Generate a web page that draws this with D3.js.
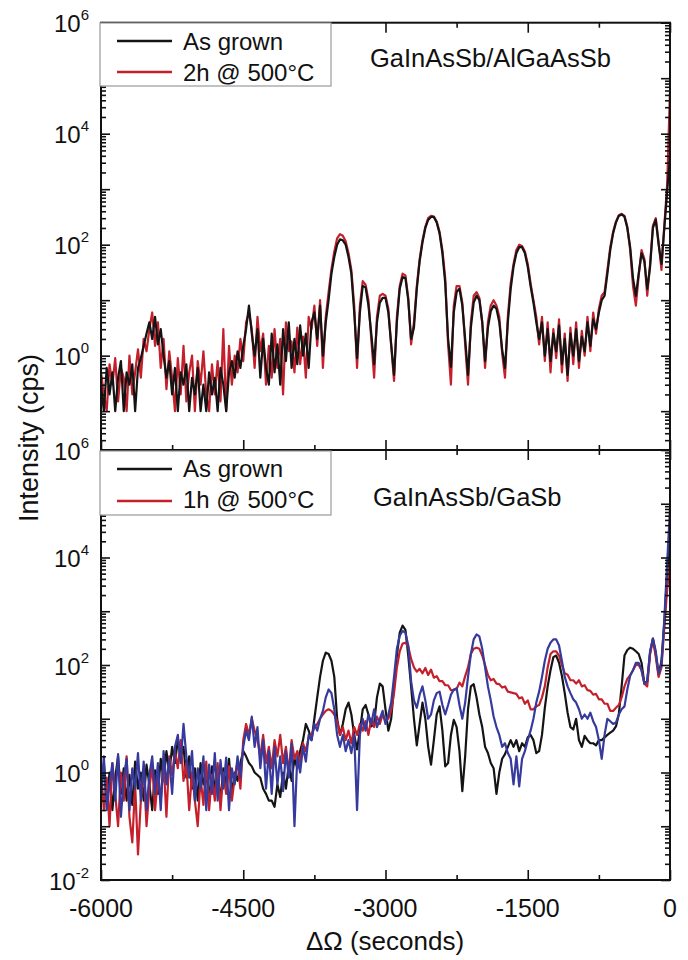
<!DOCTYPE html>
<html><head><meta charset="utf-8">
<script src="https://cdn.jsdelivr.net/npm/d3@7"></script>
<style>body{margin:0;background:#fff}text{font-family:"Liberation Sans",Arial,sans-serif;fill:#111}</style>
</head><body>
<svg id="c" width="688" height="960"></svg>
<script>
// ΔΩ sampling grid (seconds)
const X_START = -6000, X_STEP = 30;
// Top panel: GaInAsSb/AlGaAsSb
const topAsGrown = [
0.3,0.1,0.6,0.2,0.5,0.1,0.4,0.8,0.1,0.5,0.3,0.7,0.1,0.6,0.9,1.5,2.5,4,2,5,
1.6,3,1,0.4,0.8,0.2,0.6,0.1,0.5,0.3,0.7,0.1,0.4,0.2,0.6,0.1,0.3,0.1,0.5,0.2,
0.4,0.1,0.6,0.3,0.1,0.5,0.8,0.4,1.2,0.6,1.5,3,8,2.5,1,3,0.4,2,0.6,0.3,
2.5,0.5,1.6,0.3,3,0.8,4,0.6,2,0.7,3.5,1,2.5,0.6,4,6,2,8,1,4,
10,30,60,100,125,120,100,60,30,6,0.9,6,18,17,8,2.5,0.7,4,9,11,
11,6,1.6,0.45,4,16,26,25,10,2,3.2,16,50,110,200,280,316,316,250,160,
70,20,2,0.63,6,14,16,8,2,0.45,3.2,9,12,10,4,0.8,3.2,6.3,8,7,
4,1.3,0.6,4,16,40,70,90,90,70,40,18,9,4,2,4,1,3,0.8,2.5,
1.2,3.5,0.7,2,0.45,2.5,1,3,0.8,2.2,1.2,4,1.5,4.5,3,6,10,12,30,80,
160,250,330,350,320,200,90,25,12,30,70,50,16,40,200,280,100,45,200,900,4000];
const top2h = [
0.5,0.2,0.1,0.7,0.3,0.9,0.15,0.6,0.4,0.1,1,0.2,0.5,1.3,0.4,2,1.2,3,6,1.5,
4,0.6,2,0.25,1.2,0.4,0.1,0.9,0.2,1.5,0.15,0.5,1,0.1,0.8,0.3,1.2,0.2,0.1,0.7,
0.2,0.8,0.15,3,0.1,1.5,0.3,1,0.5,2,0.8,4,6,3,0.6,5,1.2,2.5,0.3,1.5,
0.4,3,0.6,2,0.2,4,1.2,1.8,0.5,3.2,0.7,2.2,0.4,5,3,8,1.5,10,0.6,5,
14,36,75,130,155,145,115,70,35,8,0.6,8,22,19,10,2,0.4,5,12,13,
12,7,1.5,0.35,5,18,30,28,11,1.6,4,18,55,120,210,300,330,320,260,170,
80,25,1.6,0.3,8,18,18,9,1.6,0.3,4,12,14,11,4,0.6,4,8,10,8,
5,1.1,0.4,5,20,45,80,100,95,75,45,20,10,5,1.6,5,0.8,4,0.5,3,
0.9,4.5,0.5,2.5,0.35,3.2,0.7,4,0.6,2.8,1,5,1.2,6,2.5,7,12,14,35,90,
170,260,340,360,330,210,80,18,8,28,80,55,12,45,220,300,110,35,220,1200,60000];
// Bottom panel: GaInAsSb/GaSb
const botAsGrown = [
0.4,1.5,0.3,1,0.2,0.8,2,0.4,1.2,0.3,0.9,0.25,1.6,0.5,1,0.3,1.4,0.6,0.2,1.1,
0.4,1.8,0.7,2.5,1,3,1.5,4,2,3,0.8,2,0.5,1.2,0.3,1.5,0.6,1,0.3,1.3,
0.5,0.9,0.3,1.2,0.6,1.8,0.4,1,0.7,1.5,2.5,2,1.5,1.3,1,0.9,0.8,0.5,0.4,0.3,
0.3,0.23,0.6,0.35,1,0.5,1.4,0.7,1.8,1.2,2.5,4,8,6,4,10,25,60,120,170,
160,120,60,10,5,8,15,20,12,5,2.7,6,15,18,12,7.2,8,25,45,40,
15,6,10,40,150,400,540,450,150,40,10,3.2,8,20,10,3,1.4,4,12,17,
6,1.3,1.5,5,9.5,7,2.5,0.45,2,15,40,44,25,12,7,3,2.3,1.5,1.2,0.4,
1,1.8,2.2,3,4,3,4,2.5,3.5,3,4.5,5,4,2.3,2.5,5,16,40,80,140,
150,110,63,30,13,7,6.3,10,4,3,4.8,4,3.5,3.5,3.2,4,4,4.5,5,5.5,
6,7.2,12,40,150,190,210,200,180,160,110,45,50,170,310,160,65,120,600,5000,25000];
const bot1h = [
1.2,0.2,0.8,0.1,1.5,0.4,0.1,1,0.3,2,0.15,0.05,0.6,0.03,0.3,1.2,0.1,0.5,1.4,0.2,
0.8,0.3,1.5,0.15,2,0.9,2.5,1.2,4,0.7,1.5,0.2,1,0.3,0.1,0.8,0.25,1.6,0.2,0.9,
0.3,1.5,0.2,1,0.4,1.3,0.3,0.8,1.6,0.5,4,8,5,10,6,4,2,5,1.5,3,
1.2,4,2,5,1.5,3,1,4,1.8,2.5,1.5,3.5,2.5,4.5,5,7,8,10,12,14,
15,14,12,9,5,7,4,6,3.5,7,5,8,6,9,5,10,7,11,8,12,
9,10,14,30,90,180,250,260,220,130,90,75,85,70,88,65,82,58,62,50,
50,42,42,34,34,36,47,40,62,90,160,200,210,200,150,100,65,52,55,45,
44,38,40,32,31,30,29,24,25,19,22,15,15,17,18,25,40,90,160,180,
180,150,100,70,66,52,52,45,52,40,42,34,33,28,29,23,23,19,19,14,
14,16,18,25,40,55,65,80,100,100,80,45,40,160,300,140,60,90,500,2500,8000];
const botBlue = [
0.3,2,0.2,0.6,1.5,0.3,2.2,0.15,0.8,1.8,0.2,1.2,0.5,2.3,0.3,1.6,0.2,0.9,2,0.4,
1.5,0.2,2.5,0.6,1.8,0.4,3,5,1.5,8,2,0.8,2.5,0.3,1.2,0.5,2,0.2,1.4,0.4,
2.3,0.3,1.7,0.5,1.9,0.2,1.2,0.6,2,0.8,3,6,4,11,3,7,1.2,4,0.5,2.5,
0.4,3,0.6,2,0.45,2.5,0.8,3.5,0.1,2,1,3,1.6,5,4,8,6,10,14,25,
35,30,15,5,3,5,2.5,4,2.3,5,0.2,5,10,6,12,8,15,7,10,14,
8,12,20,60,200,350,430,400,230,50,22,16,28,40,22,10,12,22,30,32,
18,12,18,28,35,37,18,10,20,60,160,300,370,340,200,90,40,22,11,7,
5,3,3.5,2.3,1.8,0.6,2,0.55,1.8,2.5,4,6,10,20,32,60,120,200,260,300,
300,230,120,60,40,30,23,20,15,10,12,10,13,9,7,4,1.8,5,10,9,
8,8.5,12,15,17,35,63,80,110,110,80,45,50,180,310,180,70,100,700,8000,80000];

const xTickValues = [-6000,-4500,-3000,-1500,0];
const xMinorValues = [-5250,-3750,-2250,-750];
const topYLabels = [0,2,4,6];      // exponents
const botYLabels = [-2,0,2,4,6];
const topLegend = ["As grown","2h @ 500°C"];
const botLegend = ["As grown","1h @ 500°C"];
const topTitle = "GaInAsSb/AlGaAsSb";
const botTitle = "GaInAsSb/GaSb";
const colors = {black:"#141414", red:"#c4202b", blue:"#363a9c"};

const svg = d3.select("#c");
const L = 101, R = 670;
const x = d3.scaleLinear().domain([-6000,0]).range([L,R]);
const panels = [
  {top:22.7, bot:450, dom:[Math.pow(10,-1.7),1e6], labels:topYLabels,
   series:[[top2h,colors.red],[topAsGrown,colors.black]], legend:topLegend,
   legY:23, legH:63, lineY:[41,72], textY:[50,81], title:topTitle, titleX:370, titleY:67},
  {top:450, bot:880, dom:[1e-2,1e6], labels:botYLabels,
   series:[[botAsGrown,colors.black],[bot1h,colors.red],[botBlue,colors.blue]], legend:botLegend,
   legY:451, legH:64, lineY:[469,501], textY:[477,508], title:botTitle, titleX:373, titleY:506}
];

panels.forEach((p,pi)=>{
  const y = d3.scaleLog().domain(p.dom).range([p.bot,p.top]);
  const id = "clip"+pi;
  svg.append("clipPath").attr("id",id).append("rect")
    .attr("x",L).attr("y",p.top).attr("width",R-L).attr("height",p.bot-p.top);
  const line = d3.line().x((d,i)=>x(X_START+i*X_STEP)).y(d=>y(d));
  const g = svg.append("g").attr("clip-path",`url(#${id})`);
  p.series.forEach(([data,col])=>{
    g.append("path").attr("d",line(data)).attr("fill","none")
      .attr("stroke",col).attr("stroke-width",2.2).attr("stroke-linejoin","round");
  });
  // y ticks
  const lo = Math.floor(Math.log10(p.dom[0])), hi = Math.log10(p.dom[1]);
  const majors = d3.range(lo, hi+1).map(e=>Math.pow(10,e)).filter(v=>v>=p.dom[0]*0.999&&v<=p.dom[1]*1.001);
  const minors = [];
  d3.range(lo, hi).forEach(e=>{for(let m=2;m<=9;m++){const v=m*Math.pow(10,e); if(v>=p.dom[0]*0.999&&v<=p.dom[1]) minors.push(v);}});
  const mk = (axisFn, vals, size, tx)=> {
    const a = svg.append("g").attr("transform",tx)
      .call(axisFn.tickValues(vals).tickSizeInner(size).tickSizeOuter(0).tickFormat(""));
    a.select(".domain").remove();
    a.selectAll(".tick line").attr("stroke","#111").attr("stroke-width",1.6);
  };
  mk(d3.axisLeft(y), majors, -9, `translate(${L},0)`);
  mk(d3.axisLeft(y), minors, -5, `translate(${L},0)`);
  mk(d3.axisRight(y), majors, -9, `translate(${R},0)`);
  mk(d3.axisRight(y), minors, -5, `translate(${R},0)`);
  mk(d3.axisBottom(x), xTickValues, -10, `translate(0,${p.bot})`);
  mk(d3.axisBottom(x), xMinorValues, -5, `translate(0,${p.bot})`);
  mk(d3.axisTop(x), xTickValues, -10, `translate(0,${p.top})`);
  mk(d3.axisTop(x), xMinorValues, -5, `translate(0,${p.top})`);
  svg.append("rect").attr("x",L).attr("y",p.top).attr("width",R-L).attr("height",p.bot-p.top)
    .attr("fill","none").attr("stroke","#111").attr("stroke-width",2);
  p.labels.forEach(e=>{
    const t = svg.append("text").attr("x",89).attr("y",y(Math.pow(10,e))+9.5)
      .attr("text-anchor","end").attr("font-size",24);
    t.append("tspan").text("10");
    t.append("tspan").attr("dy",-12).attr("font-size",15).text(String(e));
  });
  svg.append("rect").attr("x",100).attr("y",p.legY).attr("width",231).attr("height",p.legH)
    .attr("fill","#fff").attr("stroke","#999").attr("stroke-width",1.2);
  p.legend.forEach((lab,k)=>{
    svg.append("line").attr("x1",117).attr("x2",172).attr("y1",p.lineY[k]).attr("y2",p.lineY[k])
      .attr("stroke",k===0?colors.black:colors.red).attr("stroke-width",2.6);
    svg.append("text").attr("x",183).attr("y",p.textY[k]).attr("font-size",24).text(lab);
  });
  svg.append("text").attr("x",p.titleX).attr("y",p.titleY).attr("font-size",25.5).text(p.title);
});

xTickValues.forEach(v=>{
  svg.append("text").attr("x",x(v)).attr("y",917).attr("text-anchor","middle")
    .attr("font-size",25).text(String(v));
});
svg.append("text").attr("x",385).attr("y",950).attr("text-anchor","middle")
  .attr("font-size",26).text("ΔΩ (seconds)");
svg.append("text").attr("transform","translate(38,438) rotate(-90)")
  .attr("text-anchor","middle").attr("font-size",27).text("Intensity (cps)");
</script>
</body></html>
